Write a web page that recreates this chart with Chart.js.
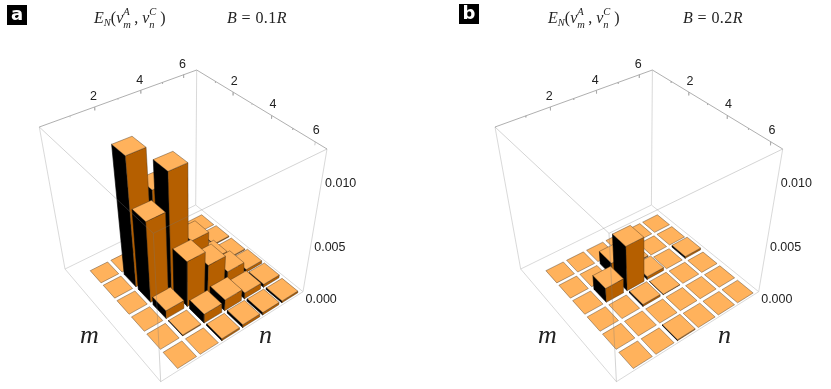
<!DOCTYPE html>
<html>
<head>
<meta charset="utf-8">
<title>E_N bars</title>
<script src="https://cdn.jsdelivr.net/npm/chart.js@4"></script>
<style>
    html, body { margin: 0; padding: 0; background: #fff; width: 831px; height: 389px; overflow: hidden; }
    canvas { position: absolute; top: 0; }
    #chartA { left: 0; }
    #chartB { left: 416px; }
    .badge { position: absolute; width: 20px; height: 20px; background: #000; color: #fff; font: bold 18px/17px "DejaVu Sans", sans-serif; text-align: center; }
    .math { position: absolute; font: 16px/18px "Liberation Serif", serif; color: #222; white-space: nowrap; }
    .math i { font-style: italic; }
    .wide { letter-spacing: 0.4px; }
    .stack { display: inline-block; position: relative; width: 11px; height: 18px; vertical-align: top; }
    .stack b { position: absolute; left: 0; font: italic 10.5px/10px "Liberation Serif", serif; }
    .stack .up { top: -2px; }
    .stack .dn { top: 11px; }
    .sub { font: italic 10.5px "Liberation Serif", serif; position: relative; top: 3px; }
    .axis { position: absolute; font: italic 26px/26px "Liberation Serif", serif; color: #222; }
</style>
</head>
<body>
<canvas id="chartA" width="416" height="389"></canvas>
<canvas id="chartB" width="415" height="389"></canvas>

<div class="badge" style="left:7px;top:5px">a</div>
<div class="badge" style="left:459px;top:4px">b</div>

<div class="math" style="left:94px;top:9px"><i>E</i><span class="sub">N</span>(<i>v</i><span class="stack"><b class="up">A</b><b class="dn">m</b></span>, <i>v</i><span class="stack"><b class="up">C</b><b class="dn">n</b></span>)</div>
<div class="math wide" style="left:227px;top:9px"><i>B</i> = 0.1<i>R</i></div>
<div class="math" style="left:548px;top:9px"><i>E</i><span class="sub">N</span>(<i>v</i><span class="stack"><b class="up">A</b><b class="dn">m</b></span>, <i>v</i><span class="stack"><b class="up">C</b><b class="dn">n</b></span>)</div>
<div class="math wide" style="left:683px;top:9px"><i>B</i> = 0.2<i>R</i></div>

<div class="axis" style="left:80px;top:322px">m</div>
<div class="axis" style="left:259px;top:322px">n</div>
<div class="axis" style="left:538px;top:322px">m</div>
<div class="axis" style="left:718px;top:322px">n</div>

<script>
/* =========================================
   1. Data (rows are m = 1..6, columns n = 1..6)
   ========================================= */
const heightsA = [
    [0, 0,      0.0005, 0.0003, 0.0002,  0],
    [0, 0.0110, 0.0078, 0.0012, 0.0004,  0.0001],
    [0, 0.0073, 0.0102, 0.0038, 0.0009,  0.0001],
    [0, 0.0008, 0.0043, 0.0029, 0.0012,  0.0003],
    [0, 0.0001, 0.0009, 0.0011, 0.0006,  0.0003],
    [0, 0,      0.0002, 0.0003, 0.00025, 0.0002]
];
const heightsB = [
    [0, 0,      0,      0,       0, 0],
    [0, 0,      0.0013, 0.0001,  0, 0],
    [0, 0.0014, 0.0043, 0.0003,  0, 0.0002],
    [0, 0,      0.0002, 0.00005, 0, 0],
    [0, 0,      0,      0,       0, 0],
    [0, 0,      0.0001, 0,       0, 0]
];
const indexTicks = [2, 4, 6];
const zTicks = [0, 0.005, 0.01];
const zTickLabels = ['0.000', '0.005', '0.010'];

/* =========================================
   2. Projection of the 3D box onto the page
   ========================================= */
const colors = {
    top: '#ffb25c',
    right: '#b55f00',
    left: '#000000',
    edge: 'rgba(70, 50, 30, 0.7)',
    box: '#cfcfcf',
    boxBack: '#a6a6a6',
    boxFront: 'rgba(120, 120, 120, 0.4)',
    text: '#222222'
};
const barWidth = 0.84;
const mRange = [-0.12, 6.5];
const nRange = [-0.2, 6.64];
const zMax = 0.0118;
const zPerspective = 0.78;
const panelShift = 455.7; // panel b is panel a moved right

// box corners: L, F, R, B
const floorCorners = [[65, 269], [160.7, 381.7], [303, 291.7], [195.7, 205]];
const ceilCorners = [[39.3, 127], [153.3, 233.3], [327, 149], [196.7, 70]];

function homography(q) {
    const [[x0, y0], [x1, y1], [x2, y2], [x3, y3]] = q;
    const dx1 = x1 - x2, dx2 = x3 - x2, sx = x0 - x1 + x2 - x3;
    const dy1 = y1 - y2, dy2 = y3 - y2, sy = y0 - y1 + y2 - y3;
    const den = dx1 * dy2 - dx2 * dy1;
    const g = (sx * dy2 - dx2 * sy) / den;
    const h = (dx1 * sy - sx * dy1) / den;
    const a = x1 - x0 + g * x1, b = x3 - x0 + h * x3;
    const d = y1 - y0 + g * y1, e = y3 - y0 + h * y3;
    return (u, v) => {
        const w = g * u + h * v + 1;
        return [(a * u + b * v + x0) / w, (d * u + e * v + y0) / w];
    };
}
const floorMap = homography(floorCorners);
const ceilMap = homography(ceilCorners);

function project(m, n, z, shift) {
    const u = (m - mRange[0]) / (mRange[1] - mRange[0]);
    const v = (n - nRange[0]) / (nRange[1] - nRange[0]);
    const t = z / zMax;
    const s = t * zPerspective / (1 + t * (zPerspective - 1));
    const p = floorMap(u, v), q = ceilMap(u, v);
    return { x: p[0] + (q[0] - p[0]) * s + shift, y: p[1] + (q[1] - p[1]) * s };
}

/* =========================================
   3. Dataset builders
   ========================================= */
function face(points, fillColor, edgeColor) {
    return {
        data: points.concat([points[0]]),
        showLine: true,
        fill: 'shape',
        backgroundColor: fillColor,
        borderColor: edgeColor,
        borderWidth: 0.6,
        pointRadius: 0,
        tension: 0
    };
}

function line(points, color, width) {
    return { data: points, showLine: true, fill: false, borderColor: color, borderWidth: width, pointRadius: 0, tension: 0 };
}

function buildDatasets(heights, shift) {
    const P = (m, n, z) => project(m, n, z, shift);
    const [m0, m1] = mRange, [n0, n1] = nRange;
    const list = [];

    // back of the box
    list.push(line([P(m0, n0, zMax), P(m0, n0, 0), P(m0, n1, 0), P(m1, n1, 0), P(m1, n1, zMax)], colors.box, 0.8));
    list.push(line([P(m0, n1, 0), P(m0, n1, zMax)], colors.box, 0.8));
    list.push(line([P(m0, n0, zMax), P(m0, n1, zMax), P(m1, n1, zMax)], colors.boxBack, 0.9));
    for (let i = 1; i <= 6; i++) {
        const len = i % 2 === 0 ? 0.00022 : 0.0001;
        list.push(line([P(m0, i, zMax), P(m0, i, zMax - len)], colors.boxBack, 0.6));
        list.push(line([P(i, n1, zMax), P(i, n1, zMax - len)], colors.boxBack, 0.6));
    }
    list.push(line([P(m0, n0, 0), P(m1, n0, 0), P(m1, n1, 0)], colors.box, 0.8));

    // bars, back to front
    const half = barWidth / 2;
    heights.forEach((row, i) => {
        const m = i + 1;
        for (let j = row.length - 1; j >= 0; j--) {
            const n = j + 1, z = row[j];
            const ml = m - half, mh = m + half, nl = n - half, nh = n + half;
            if (z > 0) {
                list.push(face([P(ml, nl, 0), P(mh, nl, 0), P(mh, nl, z), P(ml, nl, z)], colors.left, colors.left));
                list.push(face([P(mh, nl, 0), P(mh, nh, 0), P(mh, nh, z), P(mh, nl, z)], colors.right, colors.edge));
            }
            list.push(face([P(ml, nl, z), P(mh, nl, z), P(mh, nh, z), P(ml, nh, z)], colors.top, colors.edge));
        }
    });

    // front edges show through the bars
    list.push(line([P(m0, n0, zMax), P(m1, n0, zMax), P(m1, n1, zMax)], colors.boxFront, 0.8));
    list.push(line([P(m1, n0, 0), P(m1, n0, zMax)], colors.boxFront, 0.8));

    // Chart.js paints dataset 0 last, so give explicit order
    list.forEach((d, k) => { d.order = list.length - k; });
    return list;
}

/* tick labels follow the projected box edges */
const tickLabels = {
    id: 'tickLabels',
    afterDraw(chart, args, opts) {
        const { ctx, scales: { x, y } } = chart;
        const shift = opts.shift;
        ctx.save();
        ctx.fillStyle = colors.text;
        ctx.font = '12.5px "Liberation Sans", sans-serif';
        ctx.textAlign = 'center';
        ctx.textBaseline = 'middle';
        indexTicks.forEach(t => {
            const a = project(mRange[0], t, zMax, shift);
            ctx.fillText(String(t), x.getPixelForValue(a.x - 1), y.getPixelForValue(a.y - 10));
            const b = project(t, nRange[1], zMax, shift);
            ctx.fillText(String(t), x.getPixelForValue(b.x + 1), y.getPixelForValue(b.y - 11));
        });
        ctx.textAlign = 'left';
        zTicks.forEach((t, i) => {
            const c = project(mRange[1], nRange[1], t, shift);
            ctx.fillText(zTickLabels[i], x.getPixelForValue(c.x + 2.5), y.getPixelForValue(c.y + 8));
        });
        ctx.restore();
    }
};

function makeChart(id, heights, shift, xMin, xMax) {
    return new Chart(document.getElementById(id), {
        type: 'scatter',
        data: { datasets: buildDatasets(heights, shift) },
        options: {
            responsive: false,
            animation: false,
            clip: false,
            layout: { padding: 0 },
            scales: {
                x: { type: 'linear', display: false, min: xMin, max: xMax },
                y: { type: 'linear', display: false, min: 0, max: 389, reverse: true }
            },
            plugins: {
                legend: { display: false },
                tooltip: { enabled: false },
                tickLabels: { shift: shift }
            }
        },
        plugins: [tickLabels]
    });
}

makeChart('chartA', heightsA, 0, 0, 416);
makeChart('chartB', heightsB, panelShift, 416, 831);
</script>
</body>
</html>
